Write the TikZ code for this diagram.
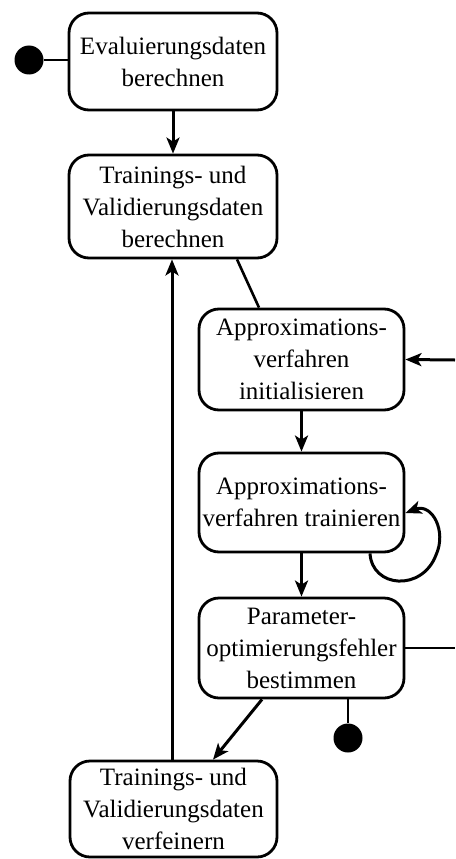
\documentclass[tikz,border=0pt]{standalone}
\usepackage{fontspec}
\setmainfont{Liberation Serif}
\usetikzlibrary{arrows.meta}
\begin{document}
\begin{tikzpicture}[x=1pt,y=-1pt,
  state/.style={draw,line width=2.8pt,rounded corners=20pt,align=center,inner sep=0pt,
    font=\fontsize{25}{32}\selectfont},
  flow/.style={line width=3pt,-{Stealth[length=16pt,width=13pt,inset=4pt]}},
  link/.style={line width=2.6pt},
  dot/.style={circle,fill=black,minimum size=29pt,inner sep=0pt}]
\useasboundingbox (0,0) rectangle (455,859);
% states
\node[state,minimum width=208pt,minimum height=97pt] (eval) at (173,61.5) {Evaluierungsdaten\\berechnen};
\node[state,minimum width=208pt,minimum height=103pt] (valid) at (173,206.5) {Trainings- und\\Validierungsdaten\\berechnen};
\node[state,minimum width=205pt,minimum height=101pt] (init) at (301.5,359.5) {Approximations-\\verfahren\\initialisieren};
\node[state,minimum width=205pt,minimum height=99pt] (train) at (301.5,502.5) {Approximations-\\verfahren trainieren};
\node[state,minimum width=205pt,minimum height=100pt] (param) at (301.5,648) {Parameter-\\optimierungsfehler\\bestimmen};
\node[state,minimum width=207pt,minimum height=96pt] (refine) at (173.5,809) {Trainings- und\\Validierungsdaten\\verfeinern};
% start and end
\node[dot] (start) at (29,60) {};
\node[dot] (final) at (348,738) {};
\coordinate (inR) at (455,360);
\coordinate (outR) at (455,648);
\coordinate (loopR) at (436,555);
% transitions
\draw[link] (start) -- (start -| eval.west);
\draw[flow] (eval) -- (valid);
\draw[link] ([xshift=64pt]valid.south) -- ([xshift=-42.5pt]init.north);
\draw[flow] (inR) -- (init.east);
\draw[flow] (init) -- (train);
\draw[flow] ([xshift=68.5pt]train.south) .. controls (372,588) and (422,592) .. (loopR)
  .. controls (447,531) and (432,503) .. ([yshift=-10.5pt]train.east);
\draw[flow] (train) -- (param);
\draw[link] (param.east) -- (outR);
\draw[link] ([xshift=46.5pt]param.south) -- (final);
\draw[flow] ([xshift=-39.5pt]param.south) -- ([xshift=39.5pt]refine.north);
\draw[flow] ([xshift=-1.5pt]refine.north) -- ([xshift=-1.5pt]refine.north |- valid.south);
\end{tikzpicture}
\end{document}
